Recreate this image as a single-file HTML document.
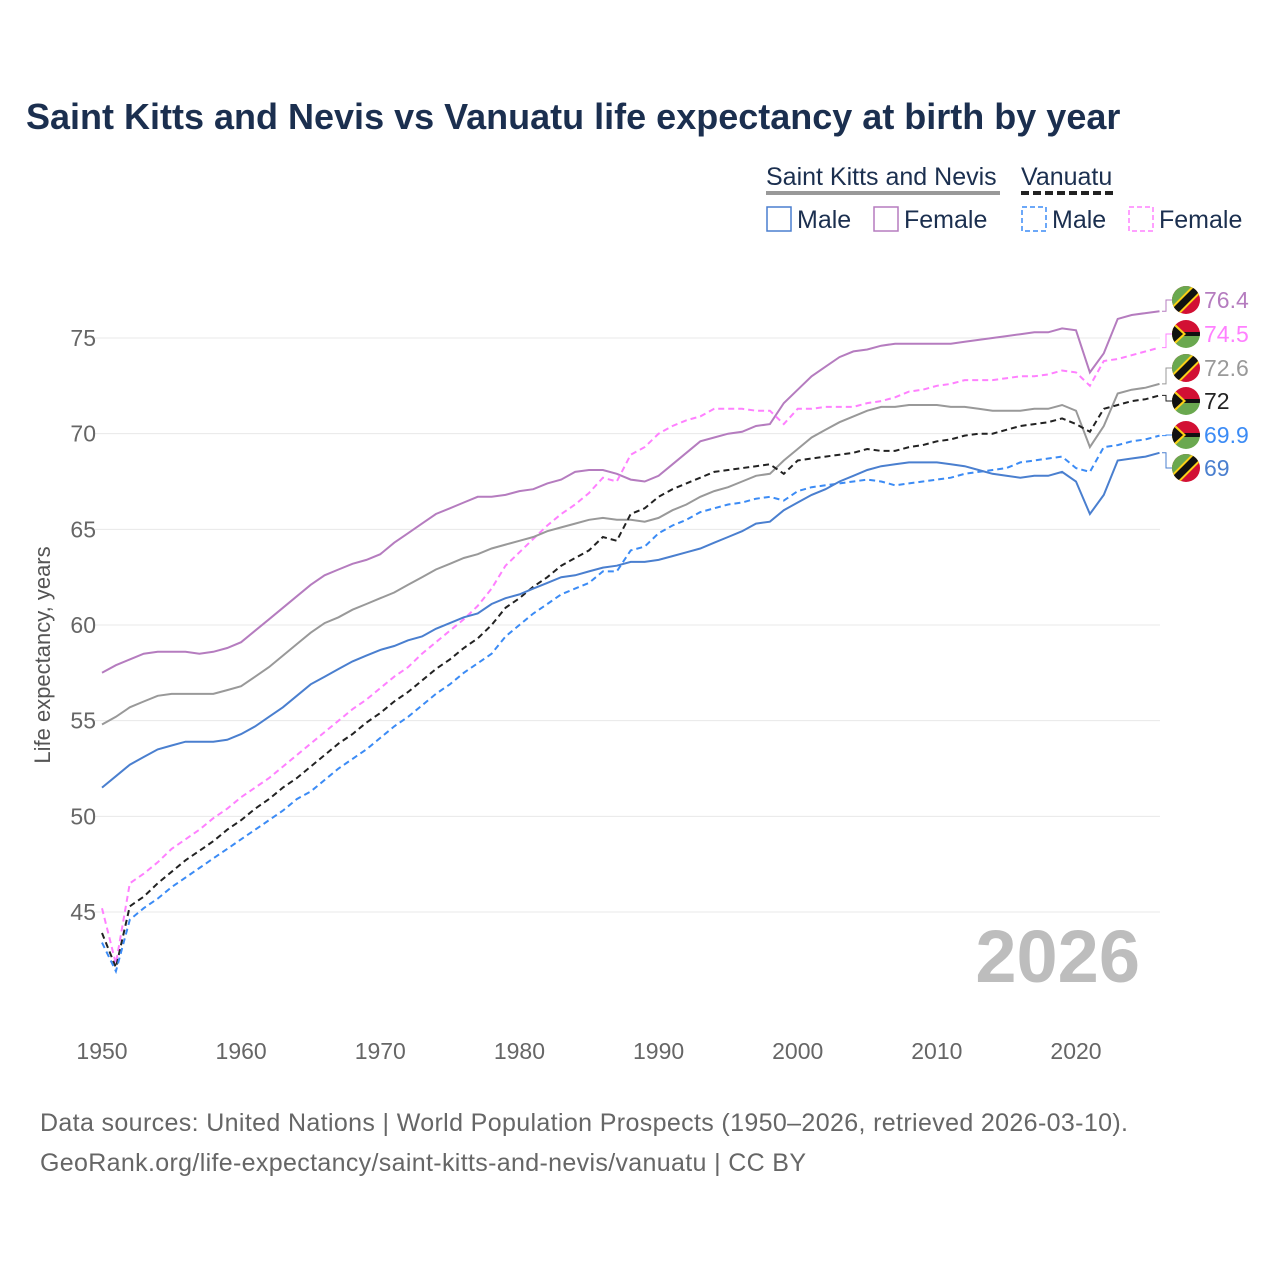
<!DOCTYPE html>
<html><head><meta charset="utf-8"><style>
body{margin:0;background:#fff;font-family:"Liberation Sans",sans-serif}
svg text{font-family:"Liberation Sans",sans-serif}
</style></head><body>
<svg id="c" width="1280" height="1280" viewBox="0 0 1280 1280">
<rect width="1280" height="1280" fill="#fff"/>
<text x="26" y="129" font-size="36" font-weight="bold" fill="#1b2f4f">Saint Kitts and Nevis vs Vanuatu life expectancy at birth by year</text>
<g>
<text x="766" y="185" font-size="25" fill="#1b2f4f">Saint Kitts and Nevis</text>
<line x1="766" y1="193" x2="1000" y2="193" stroke="#999" stroke-width="4"/>
<text x="1021" y="185" font-size="25" fill="#1b2f4f">Vanuatu</text>
<line x1="1021" y1="193" x2="1116" y2="193" stroke="#222" stroke-width="4" stroke-dasharray="8,4"/>
<g><rect x="767" y="207" width="24" height="24" fill="none" stroke="#4a7fcf" stroke-width="1.5"/><text x="797" y="228" font-size="25" fill="#1b2f4f">Male</text></g>
<g><rect x="874" y="207" width="24" height="24" fill="none" stroke="#b57cbf" stroke-width="1.5"/><text x="904" y="228" font-size="25" fill="#1b2f4f">Female</text></g>
<g><rect x="1022" y="207" width="24" height="24" fill="none" stroke="#3b8bf5" stroke-width="1.5" stroke-dasharray="5,3"/><text x="1052" y="228" font-size="25" fill="#1b2f4f">Male</text></g>
<g><rect x="1129" y="207" width="24" height="24" fill="none" stroke="#ff80ff" stroke-width="1.5" stroke-dasharray="5,3"/><text x="1159" y="228" font-size="25" fill="#1b2f4f">Female</text></g>
</g>
<g id="grid"></g><g id="series"></g><g id="labels"></g>
<text x="1140" y="982" font-size="74" font-weight="bold" fill="#bdbdbd" text-anchor="end">2026</text>
<text x="50" y="655" font-size="22" fill="#555" text-anchor="middle" transform="rotate(-90 50 655)">Life expectancy, years</text>
<text x="40" y="1131" font-size="25" fill="#666" textLength="1088">Data sources: United Nations | World Population Prospects (1950–2026, retrieved 2026-03-10).</text>
<text x="40" y="1171" font-size="25" fill="#666" textLength="766">GeoRank.org/life-expectancy/saint-kitts-and-nevis/vanuatu | CC BY</text>
</svg>
<script>
const years=[];for(let y=1950;y<=2026;y++)years.push(y);
const yTicks=[45,50,55,60,65,70,75];
const xTicks=[1950,1960,1970,1980,1990,2000,2010,2020];
const sknFemale=[57.5,57.9,58.2,58.5,58.6,58.6,58.6,58.5,58.6,58.8,59.1,59.7,60.3,60.9,61.5,62.1,62.6,62.9,63.2,63.4,63.7,64.3,64.8,65.3,65.8,66.1,66.4,66.7,66.7,66.8,67.0,67.1,67.4,67.6,68.0,68.1,68.1,67.9,67.6,67.5,67.8,68.4,69.0,69.6,69.8,70.0,70.1,70.4,70.5,71.6,72.3,73.0,73.5,74.0,74.3,74.4,74.6,74.7,74.7,74.7,74.7,74.7,74.8,74.9,75.0,75.1,75.2,75.3,75.3,75.5,75.4,73.2,74.2,76.0,76.2,76.3,76.4];
const sknTotal=[54.8,55.2,55.7,56.0,56.3,56.4,56.4,56.4,56.4,56.6,56.8,57.3,57.8,58.4,59.0,59.6,60.1,60.4,60.8,61.1,61.4,61.7,62.1,62.5,62.9,63.2,63.5,63.7,64.0,64.2,64.4,64.6,64.9,65.1,65.3,65.5,65.6,65.5,65.5,65.4,65.6,66.0,66.3,66.7,67.0,67.2,67.5,67.8,67.9,68.6,69.2,69.8,70.2,70.6,70.9,71.2,71.4,71.4,71.5,71.5,71.5,71.4,71.4,71.3,71.2,71.2,71.2,71.3,71.3,71.5,71.2,69.3,70.4,72.1,72.3,72.4,72.6];
const sknMale=[51.5,52.1,52.7,53.1,53.5,53.7,53.9,53.9,53.9,54.0,54.3,54.7,55.2,55.7,56.3,56.9,57.3,57.7,58.1,58.4,58.7,58.9,59.2,59.4,59.8,60.1,60.4,60.6,61.1,61.4,61.6,61.9,62.2,62.5,62.6,62.8,63.0,63.1,63.3,63.3,63.4,63.6,63.8,64.0,64.3,64.6,64.9,65.3,65.4,66.0,66.4,66.8,67.1,67.5,67.8,68.1,68.3,68.4,68.5,68.5,68.5,68.4,68.3,68.1,67.9,67.8,67.7,67.8,67.8,68.0,67.5,65.8,66.8,68.6,68.7,68.8,69.0];
const vutFemale=[45.2,42.3,46.5,47.0,47.6,48.3,48.8,49.3,49.9,50.4,51.0,51.5,52.0,52.6,53.2,53.8,54.4,55.0,55.6,56.1,56.7,57.3,57.8,58.5,59.1,59.7,60.3,61.0,61.9,63.1,63.8,64.5,65.2,65.8,66.3,66.9,67.7,67.5,68.9,69.3,70.0,70.4,70.7,70.9,71.3,71.3,71.3,71.2,71.2,70.5,71.3,71.3,71.4,71.4,71.4,71.6,71.7,71.9,72.2,72.3,72.5,72.6,72.8,72.8,72.8,72.9,73.0,73.0,73.1,73.3,73.2,72.5,73.8,73.9,74.1,74.3,74.5];
const vutTotal=[43.9,42.1,45.3,45.8,46.5,47.1,47.7,48.2,48.7,49.3,49.8,50.4,50.9,51.5,52.0,52.6,53.2,53.8,54.3,54.9,55.4,56.0,56.5,57.1,57.7,58.2,58.8,59.3,60.0,60.9,61.4,62.0,62.5,63.1,63.5,63.9,64.6,64.4,65.8,66.1,66.7,67.1,67.4,67.7,68.0,68.1,68.2,68.3,68.4,67.9,68.6,68.7,68.8,68.9,69.0,69.2,69.1,69.1,69.3,69.4,69.6,69.7,69.9,70.0,70.0,70.2,70.4,70.5,70.6,70.8,70.5,70.1,71.3,71.5,71.7,71.8,72.0];
const vutMale=[43.4,41.9,44.6,45.2,45.7,46.3,46.8,47.3,47.8,48.3,48.8,49.3,49.8,50.3,50.9,51.3,51.9,52.5,53.0,53.5,54.1,54.7,55.2,55.8,56.4,56.9,57.5,58.0,58.5,59.4,60.0,60.6,61.1,61.6,61.9,62.2,62.8,62.8,63.9,64.1,64.8,65.2,65.5,65.9,66.1,66.3,66.4,66.6,66.7,66.5,67.0,67.2,67.3,67.4,67.5,67.6,67.5,67.3,67.4,67.5,67.6,67.7,67.9,68.0,68.1,68.2,68.5,68.6,68.7,68.8,68.2,68.0,69.3,69.4,69.6,69.7,69.9];
const NS='http://www.w3.org/2000/svg';
const X=y=>102+(y-1950)*(1076-102)/70;
const Y=v=>338+(75-v)*(912-338)/30;
function mk(t,a,p){const e=document.createElementNS(NS,t);for(const k in a)e.setAttribute(k,a[k]);p.appendChild(e);return e;}
const grid=document.getElementById('grid');
yTicks.forEach(v=>{
 const l=mk('line',{x1:95,x2:1160,y1:Y(v),y2:Y(v),stroke:'#e8e8e8','stroke-width':1},grid);
 
 
 const t=mk('text',{x:96,y:Y(v)+8,'font-size':23,fill:'#666','text-anchor':'end'},grid);t.textContent=v;
 
 
});
xTicks.forEach(y=>{
 const t=mk('text',{x:X(y),y:1059,'font-size':23,fill:'#666','text-anchor':'middle'},grid);t.textContent=y;
 
 
});
const series=[
 {d:sknFemale,c:'#b57cbf',dash:null,n:'skn-female',ly:300,flag:'skn'},
 {d:vutFemale,c:'#ff80ff',dash:'6,4',n:'vut-female',ly:334,flag:'vut'},
 {d:sknTotal,c:'#999',dash:null,n:'skn-total',ly:368,flag:'skn'},
 {d:vutTotal,c:'#222',dash:'6,4',n:'vut-total',ly:401,flag:'vut'},
 {d:vutMale,c:'#3b8bf5',dash:'6,4',n:'vut-male',ly:435,flag:'vut'},
 {d:sknMale,c:'#4a7fcf',dash:null,n:'skn-male',ly:468,flag:'skn'}];
const sg=document.getElementById('series'),lg=document.getElementById('labels');
series.forEach(s=>{
 const pts=s.d.map((v,i)=>X(years[i]).toFixed(1)+','+Y(v).toFixed(1)).join(' ');
 const a={points:pts,fill:'none',stroke:s.c,'stroke-width':2};if(s.dash)a['stroke-dasharray']=s.dash;
 const p=mk('polyline',a,sg);
 
 
 const last=s.d[s.d.length-1],ey=Y(last);
 mk('polyline',{points:`1162,${ey} 1166,${ey} 1166,${s.ly} 1172,${s.ly}`,fill:'none',stroke:s.c,'stroke-width':1},lg);
 const g=mk('g',{transform:`translate(1186,${s.ly})`},lg);
 
 
 const cid='cl'+s.n;const cp=mk('clipPath',{id:cid},g);mk('circle',{r:14},cp);
 const f=mk('g',{'clip-path':`url(#${cid})`},g);
 if(s.flag==='skn'){
  mk('rect',{x:-15,y:-15,width:30,height:30,fill:'#d21034'},f);
  mk('polygon',{points:'-15,-15 15,-15 -15,15',fill:'#6aa84f'},f);
  mk('line',{x1:-16,y1:16,x2:16,y2:-16,stroke:'#fcd116','stroke-width':11},f);
  mk('line',{x1:-16,y1:16,x2:16,y2:-16,stroke:'#111','stroke-width':7},f);
 }else{
  mk('rect',{x:-15,y:-15,width:30,height:15,fill:'#d21034'},f);
  mk('rect',{x:-15,y:0,width:30,height:15,fill:'#6aa84f'},f);
  mk('rect',{x:-15,y:-2,width:30,height:4,fill:'#111'},f);
  mk('polygon',{points:'-15,-14 0,0 -15,14',fill:'#fcd116'},f);
  mk('polygon',{points:'-15,-11 -3,0 -15,11',fill:'#111'},f);
 }
 const t=mk('text',{x:1204,y:s.ly+8,'font-size':23,fill:s.c},lg);t.textContent=last;
 
 
});
</script>
</body></html>
